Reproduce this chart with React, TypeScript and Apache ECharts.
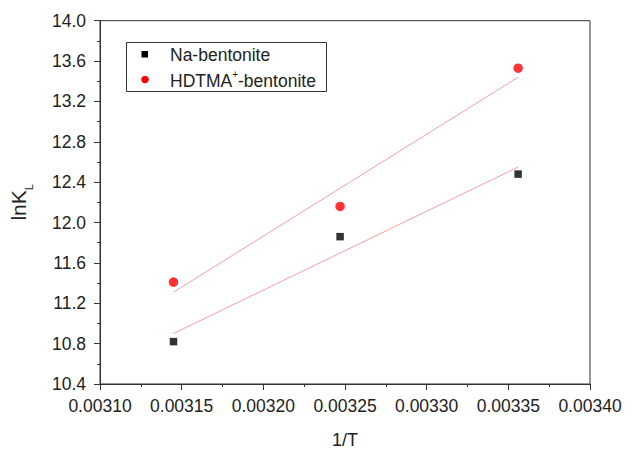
import React, { useEffect, useRef } from "react";
import * as echarts from "echarts";

// 1/T values (K^-1)
const invT = [0.003145, 0.003247, 0.003356];
// lnK_L values
const naBentonite = [10.82, 11.86, 12.48];
const hdtmaBentonite = [11.41, 12.16, 13.53];
// linear-fit end points (at first and last 1/T)
const fitX = [0.003145, 0.003356];
const naFit = [10.9, 12.55];
const hdtmaFit = [11.31, 13.44];

const FONT = "'Liberation Sans', Arial, sans-serif";

export default function App() {
  const ref = useRef<HTMLDivElement>(null);
  useEffect(() => {
    if (!ref.current) return;
    const chart = echarts.init(ref.current, undefined, { renderer: "svg" });
    const pts = (xs: number[], ys: number[]) => xs.map((x, i) => [x, ys[i]]);
    chart.setOption({
      animation: false,
      backgroundColor: "#ffffff",
      textStyle: { fontFamily: FONT },
      grid: {
        left: 96,
        right: 44,
        top: 20.7,
        bottom: 61.3,
        show: true,
        borderColor: "#333",
        borderWidth: 1,
        backgroundColor: "transparent",
      },
      xAxis: {
        type: "value",
        min: 0.0031,
        max: 0.0034,
        interval: 0.00005,
        name: "1/T",
        nameLocation: "middle",
        nameGap: 47,
        nameTextStyle: { fontSize: 18, color: "#222", fontFamily: FONT },
        axisLine: { onZero: false, lineStyle: { color: "#333", width: 1 } },
        axisTick: { show: true, inside: false, length: 6, lineStyle: { color: "#333" } },
        minorTick: { show: true, splitNumber: 2, length: 3, lineStyle: { color: "#333" } },
        splitLine: { show: false },
        axisLabel: {
          color: "#222",
          fontSize: 17.5,
          fontFamily: FONT,
          margin: 13,
          formatter: (v: number) => v.toFixed(5),
        },
      },
      yAxis: {
        type: "value",
        min: 10.4,
        max: 14.0,
        interval: 0.4,
        name: "{a|lnK}{s|L}",
        nameLocation: "middle",
        nameRotate: 90,
        nameGap: 66,
        nameTextStyle: {
          color: "#222",
          fontFamily: FONT,
          rich: {
            a: { fontSize: 21, color: "#222", fontFamily: FONT, lineHeight: 26, verticalAlign: "top" },
            s: { fontSize: 11, color: "#222", fontFamily: FONT, lineHeight: 11, verticalAlign: "bottom" },
          },
        },
        axisLine: { onZero: false, lineStyle: { color: "#333", width: 1 } },
        axisTick: { show: true, inside: false, length: 6, lineStyle: { color: "#333" } },
        minorTick: { show: true, splitNumber: 2, length: 3, lineStyle: { color: "#333" } },
        splitLine: { show: false },
        axisLabel: {
          color: "#222",
          fontSize: 17.5,
          fontFamily: FONT,
          margin: 14,
          formatter: (v: number) => v.toFixed(1),
        },
      },
      series: [
        {
          name: "Na-bentonite fit",
          type: "line",
          data: pts(fitX, naFit),
          symbol: "none",
          silent: true,
          lineStyle: { color: "#f5a0a0", width: 1 },
        },
        {
          name: "HDTMA+-bentonite fit",
          type: "line",
          data: pts(fitX, hdtmaFit),
          symbol: "none",
          silent: true,
          lineStyle: { color: "#f5a0a0", width: 1 },
        },
        {
          name: "Na-bentonite",
          type: "scatter",
          data: pts(invT, naBentonite),
          symbol: "rect",
          symbolSize: 7.5,
          itemStyle: { color: "#000" },
        },
        {
          name: "HDTMA+-bentonite",
          type: "scatter",
          data: pts(invT, hdtmaBentonite),
          symbol: "circle",
          symbolSize: 9.5,
          itemStyle: { color: "#ff0000" },
        },
      ],
      graphic: [
        {
          type: "rect",
          shape: { x: 126.5, y: 42.5, width: 200, height: 49 },
          style: { fill: "#fff", stroke: "#333", lineWidth: 1 },
          z: 10,
        },
        {
          type: "rect",
          shape: { x: 141.5, y: 51, width: 6.5, height: 6.5 },
          style: { fill: "#000" },
          z: 11,
        },
        {
          type: "circle",
          shape: { cx: 145, cy: 79.5, r: 3.8 },
          style: { fill: "#ff0000" },
          z: 11,
        },
        {
          type: "text",
          x: 170,
          y: 54.5,
          style: {
            text: "Na-bentonite",
            fontSize: 17.5,
            fontFamily: FONT,
            fill: "#222",
            verticalAlign: "middle",
          },
          z: 11,
        },
        {
          type: "text",
          x: 170,
          y: 79.5,
          style: {
            text: "{a|HDTMA}{s|+}{a|-bentonite}",
            fontFamily: FONT,
            fill: "#222",
            verticalAlign: "middle",
            rich: {
              a: { fontSize: 17.5, fontFamily: FONT, fill: "#222", lineHeight: 20, verticalAlign: "bottom" },
              s: { fontSize: 10, fontFamily: FONT, fill: "#222", lineHeight: 20, verticalAlign: "top" },
            },
          },
          z: 11,
        },
      ],
    });
    return () => chart.dispose();
  }, []);
  return (
    <div
      ref={ref}
      style={{ position: "fixed", left: 0, top: 0, width: 634, height: 454, background: "#fff" }}
    />
  );
}
